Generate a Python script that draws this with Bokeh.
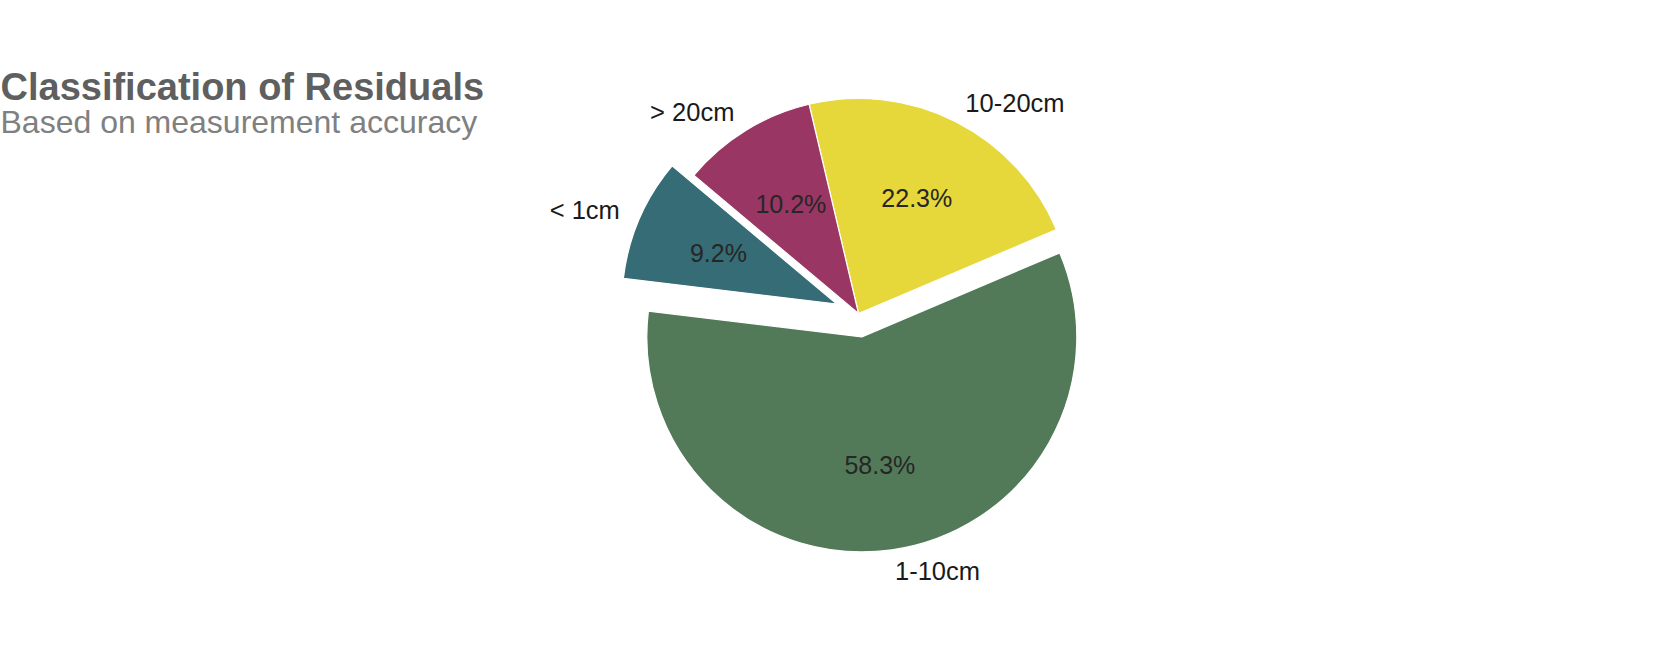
import math
from bokeh.plotting import figure
from bokeh.models import ColumnDataSource, Label, Range1d
from bokeh.core.properties import value
from bokeh.embed import file_html
from bokeh.resources import INLINE

# ---- data ----
categories = ["< 1cm", "1-10cm", "10-20cm", "> 20cm"]
shares = [9.2, 58.3, 22.3, 10.2]
explode = [0.11, 0.11, 0.0, 0.0]
colors = ["#366c75", "#527a59", "#e6d73a", "#993663"]
title_text = "Classification of Residuals"
subtitle_text = "Based on measurement accuracy"

# ---- layout ----
W, H = 1645, 630
cx, cy = 858, 317
R = 215
start_deg = 140.0
FONT = "Liberation Sans"

total = sum(shares)
starts, ends, xs, ys = [], [], [], []
lab_x, lab_y, lab_align, pct_x, pct_y, pct_txt = [], [], [], [], [], []
a = start_deg
for cat, v, ex in zip(categories, shares, explode):
    span = 360.0 * v / total
    s, e = a, a + span
    mid = math.radians((s + e) / 2)
    ox = cx + ex * R * math.cos(mid)
    oy = cy + ex * R * math.sin(mid)
    starts.append(math.radians(s))
    ends.append(math.radians(e))
    xs.append(ox)
    ys.append(oy)
    lab_x.append(ox + 1.1 * R * math.cos(mid))
    lab_y.append(oy + 1.1 * R * math.sin(mid))
    lab_align.append("left" if math.cos(mid) > 0 else "right")
    pct_x.append(ox + 0.6 * R * math.cos(mid))
    pct_y.append(oy + 0.6 * R * math.sin(mid))
    pct_txt.append(f"{v:.1f}%")
    a = e

src = ColumnDataSource(dict(x=xs, y=ys, start=starts, end=ends, color=colors,
                            lx=lab_x, ly=lab_y, la=lab_align, label=categories,
                            px=pct_x, py=pct_y, pct=pct_txt))

p = figure(width=W, height=H, x_range=Range1d(0, W), y_range=Range1d(0, H),
           output_backend="svg", toolbar_location=None, min_border=0)
p.axis.visible = False
p.grid.visible = False
p.outline_line_color = None
p.background_fill_color = "white"
p.border_fill_color = "white"

p.wedge(x="x", y="y", radius=R, start_angle="start", end_angle="end",
        fill_color="color", line_color="white", line_width=1.2, source=src)

p.text(x="lx", y="ly", text="label", text_align="la", text_baseline="middle",
       text_font=value(FONT), text_font_size="25.5px", text_color="#1a1a1a", source=src)
p.text(x="px", y="py", text="pct", text_align="center", text_baseline="middle",
       text_font=value(FONT), text_font_size="25px", text_color="#262626", source=src)

p.add_layout(Label(x=0, y=544, text=title_text, text_font=FONT, text_font_size="38px",
                   text_font_style="bold", text_color="#5f5f5f", text_baseline="alphabetic"))
p.add_layout(Label(x=0, y=509, text=subtitle_text, text_font=FONT, text_font_size="32px",
                   text_color="#808080", text_baseline="alphabetic"))

open("out.html", "w").write(file_html(p, INLINE))
